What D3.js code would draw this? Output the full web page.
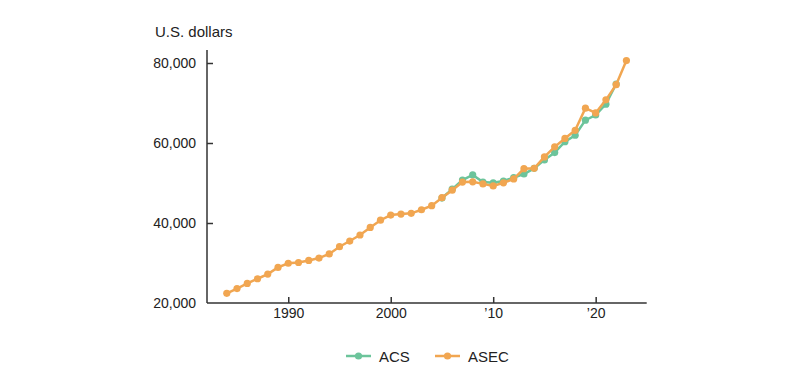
<!DOCTYPE html>
<html>
<head>
<meta charset="utf-8">
<script src="https://cdn.jsdelivr.net/npm/d3@7"></script>
<style>
  body { margin: 0; background: #fff; }
  svg text { font-family: "Liberation Sans", Arial, sans-serif; fill: #222; }
</style>
</head>
<body>
<div id="chart"></div>
<script>
// median household income, nominal dollars
var asecYears = d3.range(1984, 2024)
var asecValues = [22415, 23618, 24897, 26061, 27225, 28906, 29943, 30126, 30636, 31241,
                  32264, 34076, 35492, 37005, 38885, 40696, 41990, 42228, 42409, 43318,
                  44334, 46326, 48201, 50233, 50303, 49777, 49276, 50054, 51017, 53585,
                  53657, 56516, 59039, 61136, 63179, 68703, 67521, 70784, 74580, 80610]
var acsYears = d3.range(2005, 2023)
var acsValues = [46242, 48451, 50740, 52029, 50221, 50046, 50502, 51371, 52250, 53657,
                 55775, 57617, 60336, 61937, 65712, 67000, 69717, 74755]
var yTicks = [20000, 40000, 60000, 80000]
var xTicks = [1990, 2000, 2010, 2020]
var xTickLabels = ["1990", "2000", "\u201910", "\u201920"]

var width = 800
    height = 388

var svg = d3.select("#chart")
  .append("svg")
    .attr("width", width)
    .attr("height", height)

var x = d3.scaleLinear()
  .domain([1982.07, 2024.98])
  .range([207, 646.7])

var y = d3.scaleLinear()
  .domain([20000, 80000])
  .range([303, 63])

// y axis
var yAxis = svg.append("g")
  .attr("transform", "translate(207,0)")
  .call(d3.axisRight(y).tickValues(yTicks).tickSize(6).tickFormat(d3.format(",")))
yAxis.select(".domain").attr("d", "M0,50V303")
yAxis.selectAll(".tick text")
  .attr("x", -11)
  .attr("text-anchor", "end")
  .style("font-size", "14px")
yAxis.selectAll(".tick").filter(function(d) { return d == 20000 }).select("line").remove()

// x axis
var xAxis = svg.append("g")
  .attr("transform", "translate(0,303)")
  .call(d3.axisTop(x).tickValues(xTicks).tickSize(6)
    .tickFormat(function(d, i) { return xTickLabels[i] }))
xAxis.select(".domain").attr("d", "M207,0H646.7")
xAxis.selectAll(".tick text")
  .attr("y", 15)
  .attr("dy", "0")
  .style("font-size", "14px")

svg.selectAll(".domain, .tick line")
  .attr("stroke", "#333")
  .attr("stroke-width", 1.5)

svg.append("text")
  .attr("x", 155)
  .attr("y", 37)
  .style("font-size", "15px")
  .text("U.S. dollars")

var series = [
  {name: "ACS", color: "#6cc49b", years: acsYears, values: acsValues},
  {name: "ASEC", color: "#f1a651", years: asecYears, values: asecValues}
]

var line = d3.line()
  .x(function(d) { return x(d[0]) })
  .y(function(d) { return y(d[1]) })

series.forEach(function(s) {
  var pts = s.years.map(function(yr, i) { return [yr, s.values[i]] })
  svg.append("path")
    .datum(pts)
    .attr("d", line)
    .attr("fill", "none")
    .attr("stroke", s.color)
    .attr("stroke-width", 2.5)
  svg.append("g")
    .selectAll("circle")
    .data(pts)
    .enter()
    .append("circle")
    .attr("cx", function(d) { return x(d[0]) })
    .attr("cy", function(d) { return y(d[1]) })
    .attr("r", 3.6)
    .attr("fill", s.color)
})

// legend
var legend = svg.append("g")
  .selectAll("g")
  .data(series)
  .enter()
  .append("g")
  .attr("transform", function(d, i) { return "translate(" + (346 + i * 89) + ",356)" })
legend.append("line")
  .attr("x1", 0).attr("x2", 25)
  .attr("stroke", function(d) { return d.color })
  .attr("stroke-width", 2.5)
legend.append("circle")
  .attr("cx", 12.5)
  .attr("r", 3.6)
  .attr("fill", function(d) { return d.color })
legend.append("text")
  .attr("x", 33)
  .attr("y", 5.5)
  .style("font-size", "15px")
  .text(function(d) { return d.name })
</script>
</body>
</html>
